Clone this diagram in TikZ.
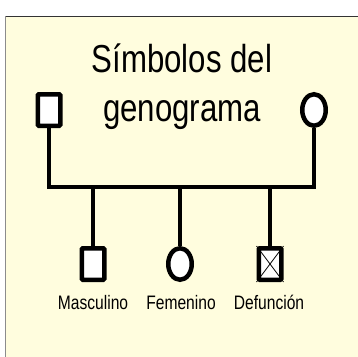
\documentclass[tikz,border=0pt]{standalone}
\usepackage{fontspec}
\setmainfont{Liberation Sans}[FakeStretch=0.8]
\usetikzlibrary{shapes.geometric}

\definecolor{paper}{RGB}{255,253,222}

\begin{document}
\begin{tikzpicture}[x=1pt,y=-1pt,
		lw/.style={line width=4.5pt},
		male/.style={lw, draw, fill=white, rounded corners=1pt, minimum width=22.5pt, minimum height=31.5pt, inner sep=0pt},
		female/.style={lw, draw, fill=white, ellipse, minimum width=23.5pt, minimum height=31.5pt, inner sep=0pt},
		conn/.style={lw, line join=miter},
		titletext/.style={anchor=base, font=\fontsize{39}{47}\selectfont},
		label/.style={anchor=base, font=\fontsize{19.5}{23}\selectfont}]
		\def\barline{187}
		\def\parentrow{110}
		\def\childrow{264}
		
		\useasboundingbox (0,0) rectangle (358,356);
		
		% background sheet
		\fill[paper] (5,16) rectangle (362,362);
		\draw[line width=1pt, black!80] (5,16) -- (362,16);
		\draw[line width=1pt, black!45] (5,16) -- (5,362);
		
		\node[titletext] (title1) at (182,72) {Símbolos del};
		\node[titletext] (title2) at (182,121) {genograma};
		
		\node[male] (father) at (49,\parentrow) {};
		\node[female] (mother) at (314,\parentrow) {};
		
		\coordinate (barL) at (49,\barline);
		\coordinate (barR) at (314,\barline);
		\draw[conn] (father.south) -- (barL) -- (barR) -- (mother.south);
		
		\node[male] (masc) at (93,\childrow) {};
		\node[female] (fem) at (180,\childrow) {};
		\node[male] (def) at (270,\childrow) {};
		\draw[line width=0.8pt] (def.north west) -- (def.south east);
		\draw[line width=0.8pt] (def.north east) -- (def.south west);
		
		\draw[conn] (masc |- barL) -- (masc.north);
		\draw[conn] (fem |- barL) -- (fem.north);
		\draw[conn] (def |- barL) -- (def.north);
		
		\node[label] (lmasc) at (93,309) {Masculino};
		\node[label] (lfem) at (181,309) {Femenino};
		\node[label] (ldef) at (269,309) {Defunción};
\end{tikzpicture}
\end{document}
